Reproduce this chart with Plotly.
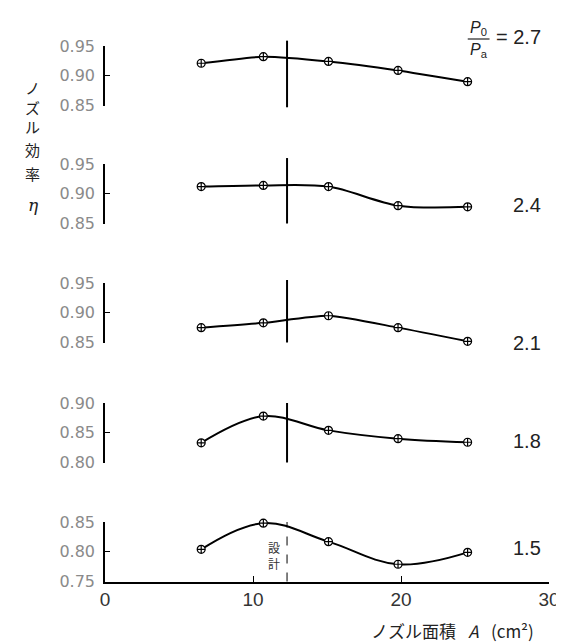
import plotly.graph_objects as go

# ---- data ----
area = [6.5, 10.7, 15.1, 19.8, 24.5]          # nozzle area A (cm^2)
pressure_ratios = ["2.7", "2.4", "2.1", "1.8", "1.5"]
eff_27 = [0.921, 0.932, 0.924, 0.909, 0.890]
eff_24 = [0.912, 0.914, 0.912, 0.880, 0.878]
eff_21 = [0.875, 0.883, 0.895, 0.875, 0.852]
eff_18 = [0.833, 0.878, 0.854, 0.840, 0.834]
eff_15 = [0.804, 0.848, 0.817, 0.779, 0.799]
efficiencies = [eff_27, eff_24, eff_21, eff_18, eff_15]
y_ranges = [[0.85, 0.95], [0.85, 0.95], [0.85, 0.95], [0.80, 0.90], [0.75, 0.85]]
x_ticks = [0, 10, 20, 30]
design_area = 12.3

# ---- layout geometry (pixels) ----
W, H = 564, 642
L, R, T, B = 97, 545, 37, 574
PH = B - T
panel_tops = [38, 156, 275, 395, 514]
panel_h = 59.5
smoothing = [0.5, 0.9, 0.6, 1.0, 1.1]
vline_ext = [(-0.03, 1.09), (0.0, 1.1), (0.0, 1.05), (0.0, 1.0), (0.0, 1.0)]

def py(p):
    return (B - p) / PH

def px(p):
    return (p - L) / (R - L)

fig = go.Figure()
layout = dict(
    width=W, height=H,
    margin=dict(l=L, r=W - R, t=T, b=H - B),
    paper_bgcolor="white", plot_bgcolor="white",
    showlegend=False,
    font=dict(family="DejaVu Sans", color="#222"),
)

tick_font = dict(family="DejaVu Sans", size=16, color="#8a8a8a")
shapes = []
annotations = []

for k, (eff, yr) in enumerate(zip(efficiencies, y_ranges)):
    n = 5 - k
    yname = "y" if n == 1 else f"y{n}"
    akey = "yaxis" if n == 1 else f"yaxis{n}"
    top = panel_tops[k]
    dom = [max(0.0, py(top + panel_h)), min(1.0, py(top))]
    tv = [yr[0], (yr[0] + yr[1]) / 2, yr[1]]
    layout[akey] = dict(
        domain=dom, range=yr, anchor="x",
        showline=True, linecolor="black", linewidth=1.5,
        ticks="inside", ticklen=5, tickwidth=1.2, tickcolor="black",
        tickvals=tv, ticktext=[f"{v:.2f}" for v in tv],
        tickfont=tick_font, ticklabelstandoff=5,
        showgrid=False, zeroline=False, fixedrange=True,
    )
    fig.add_trace(go.Scatter(
        x=area, y=eff, xaxis="x", yaxis=yname,
        mode="lines+markers",
        line=dict(color="black", width=2, shape="spline", smoothing=smoothing[k]),
        marker=dict(symbol="circle-cross", size=8, color="white",
                    line=dict(color="black", width=1.2)),
        cliponaxis=False,
    ))
    y0, y1 = vline_ext[k]
    shapes.append(dict(
        type="line", xref="x", yref=f"{yname} domain",
        x0=design_area, x1=design_area, y0=y0, y1=y1,
        line=dict(color="black", width=1 if k == 4 else 2,
                  dash="dash" if k == 4 else "solid"),
    ))

layout["xaxis"] = dict(
    range=[0, 30], anchor="y", domain=[0, 1],
    showline=True, linecolor="black", linewidth=1.5,
    ticks="inside", ticklen=6, tickwidth=1.2, tickcolor="black",
    tickvals=x_ticks, ticktext=[str(v) for v in x_ticks],
    tickfont=dict(family="Liberation Sans", size=19, color="#333"),
    showgrid=False, zeroline=False, fixedrange=True,
)

# right-side labels (pressure ratio)
label_y = [29, 197, 335, 433, 540]
label_font = dict(family="Liberation Sans", size=20, color="#222")
for k, (lab, yy) in enumerate(zip(pressure_ratios, label_y)):
    text = ("= " + lab) if k == 0 else lab
    annotations.append(dict(
        xref="paper", yref="paper", x=px(539), y=py(yy),
        xanchor="right", yanchor="middle", text=text, showarrow=False,
        font=label_font,
    ))
# fraction P0 / Pa
frac_font = dict(family="Liberation Sans", size=16, color="#222")
annotations.append(dict(xref="paper", yref="paper", x=px(474), y=py(20),
                        xanchor="center", yanchor="middle",
                        text="<i>P</i><sub>0</sub>", showarrow=False, font=frac_font))
annotations.append(dict(xref="paper", yref="paper", x=px(474), y=py(43),
                        xanchor="center", yanchor="middle",
                        text="<i>P</i><sub>a</sub>", showarrow=False, font=frac_font))
shapes.append(dict(type="line", xref="paper", yref="paper",
                   x0=px(463), x1=px(485), y0=py(31), y1=py(31),
                   line=dict(color="#222", width=1.2)))

# design label next to dashed line
annotations.append(dict(xref="paper", yref="paper", x=px(268), y=py(547),
                        xanchor="center", yanchor="middle",
                        text="設<br>計", showarrow=False,
                        font=dict(family="Noto Sans CJK JP", size=12, color="#333")))

# y-axis title (vertical stacked characters)
ytitle_chars = ["ノ", "ズ", "ル", "効", "率"]
ytitle_pos = [80, 99, 119, 142, 165]
for ch, yy in zip(ytitle_chars, ytitle_pos):
    annotations.append(dict(xref="paper", yref="paper", x=px(24), y=py(yy),
                            xanchor="center", yanchor="middle", text=ch, showarrow=False,
                            font=dict(family="Noto Sans CJK JP", size=15, color="#222")))
annotations.append(dict(xref="paper", yref="paper", x=px(25), y=py(197),
                        xanchor="center", yanchor="middle", text="<i>η</i>", showarrow=False,
                        font=dict(family="DejaVu Serif", size=17, color="#222")))

# x-axis title
annotations.append(dict(xref="paper", yref="paper", x=px(532), y=py(622),
                        xanchor="right", yanchor="middle",
                        text="ノズル面積\u2002 <i>A</i> \u2002(cm²)", showarrow=False,
                        font=dict(family="Noto Sans CJK JP", size=17, color="#222")))

layout["shapes"] = shapes
layout["annotations"] = annotations
fig.update_layout(**layout)
fig.write_html("out.html")
